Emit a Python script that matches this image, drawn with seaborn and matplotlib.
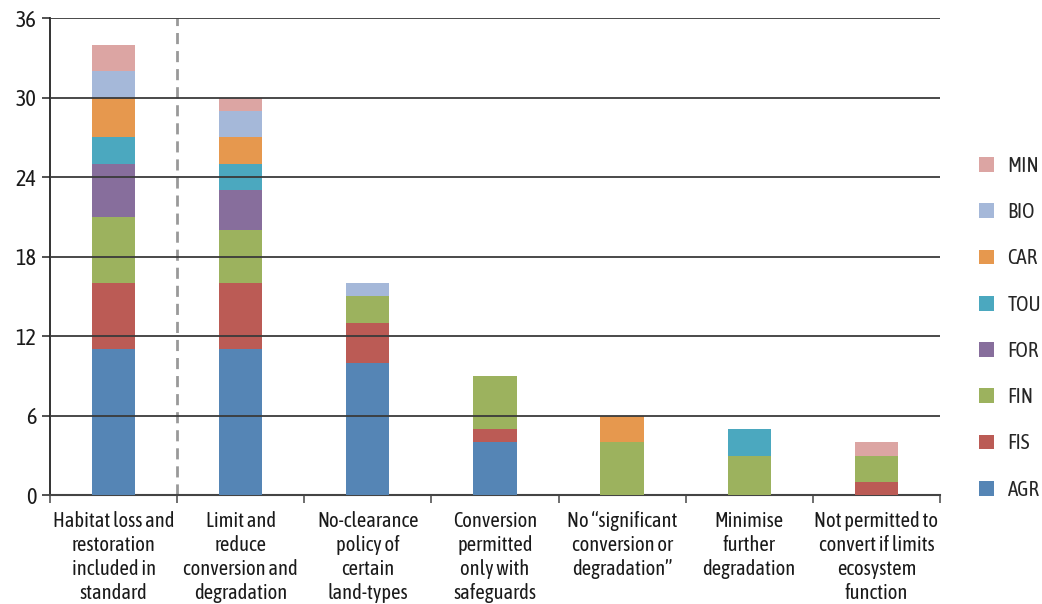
import matplotlib
matplotlib.use("Agg")
import matplotlib.pyplot as plt
from matplotlib.patches import Patch
from matplotlib.ticker import FixedLocator
import numpy as np
import pandas as pd
import seaborn as sns

categories = [
    "Habitat loss and\nrestoration\nincluded in\nstandard",
    "Limit and\nreduce\nconversion and\ndegradation",
    "No-clearance\npolicy of\ncertain\nland-types",
    "Conversion\npermitted\nonly with\nsafeguards",
    "No \u201csignificant\nconversion or\ndegradation\u201d",
    "Minimise\nfurther\ndegradation",
    "Not permitted to\nconvert if limits\necosystem\nfunction",
]

sectors = ["AGR", "FIS", "FIN", "FOR", "TOU", "CAR", "BIO", "MIN"]

AGR = [11, 11, 10, 4, 0, 0, 0]
FIS = [5, 5, 3, 1, 0, 0, 1]
FIN = [5, 4, 2, 4, 4, 3, 2]
FOR = [4, 3, 0, 0, 0, 0, 0]
TOU = [2, 2, 0, 0, 0, 2, 0]
CAR = [3, 2, 0, 0, 2, 0, 0]
BIO = [2, 2, 1, 0, 0, 0, 0]
MIN = [2, 1, 0, 0, 0, 0, 1]

series = {"AGR": AGR, "FIS": FIS, "FIN": FIN, "FOR": FOR,
          "TOU": TOU, "CAR": CAR, "BIO": BIO, "MIN": MIN}

colors = {
    "AGR": "#5585b5",
    "FIS": "#bb5b55",
    "FIN": "#9cb25e",
    "FOR": "#876e9c",
    "TOU": "#4ba8bf",
    "CAR": "#e6984e",
    "BIO": "#a5b8d9",
    "MIN": "#dca5a3",
}

yticks = [0, 6, 12, 18, 24, 30, 36]

sns.set_theme(style="white")
plt.rcParams["font.family"] = ["Asap Condensed", "DejaVu Sans"]

fig = plt.figure(figsize=(10.42, 6.04), dpi=100)
ax = fig.add_axes([0.048, 0.180, 0.854, 0.790])

df = pd.DataFrame(series)
df["category"] = categories

bottom = np.zeros(len(categories))
for s in sectors:
    sns.barplot(data=df, x="category", y=s, order=categories,
                color=colors[s], width=0.34, bottom=bottom,
                linewidth=0, saturation=1, ax=ax, zorder=3)
    bottom = bottom + np.array(series[s], dtype=float)

ax.set_xlim(-0.5, len(categories) - 0.5)
ax.set_ylim(0, 36)
ax.set_yticks(yticks)
ax.set_yticklabels([str(v) for v in yticks], fontsize=16, color="#1a1a1a")
ax.set_xlabel("")
ax.set_ylabel("")

# horizontal gridlines
for v in yticks[1:]:
    ax.axhline(v, color="#3a3a3a", linewidth=1.3, zorder=4)

# dashed separator after the first group
ax.axvline(0.5, color="#999999", linestyle=(0, (4, 2.5)), linewidth=2.0, zorder=2)

ax.tick_params(axis="x", which="major", length=0, pad=11, labelsize=14.8,
               labelcolor="#1a1a1a")
ax.xaxis.set_minor_locator(FixedLocator(np.arange(-0.5, len(categories), 1.0)))
ax.tick_params(axis="x", which="minor", length=6, width=1.2, color="#555555",
               direction="out", bottom=True)
ax.tick_params(axis="y", which="major", length=6, width=1.2, color="#333333",
               direction="out", left=True, pad=4)
for lbl in ax.get_xticklabels():
    lbl.set_linespacing(1.26)

for side in ["top", "right"]:
    ax.spines[side].set_visible(False)
ax.spines["left"].set_color("#222222")
ax.spines["left"].set_linewidth(1.3)
ax.spines["bottom"].set_color("#444444")
ax.spines["bottom"].set_linewidth(1.5)

handles = [Patch(facecolor=colors[s], edgecolor="none") for s in reversed(sectors)]
leg = fig.legend(handles, list(reversed(sectors)), loc="upper left",
                 bbox_to_anchor=(0.9395, 0.742), frameon=False, fontsize=15,
                 borderpad=0, borderaxespad=0,
                 handlelength=0.72, handleheight=0.72, handletextpad=0.65,
                 labelspacing=1.26)

fig.savefig("out.png", dpi=100)
